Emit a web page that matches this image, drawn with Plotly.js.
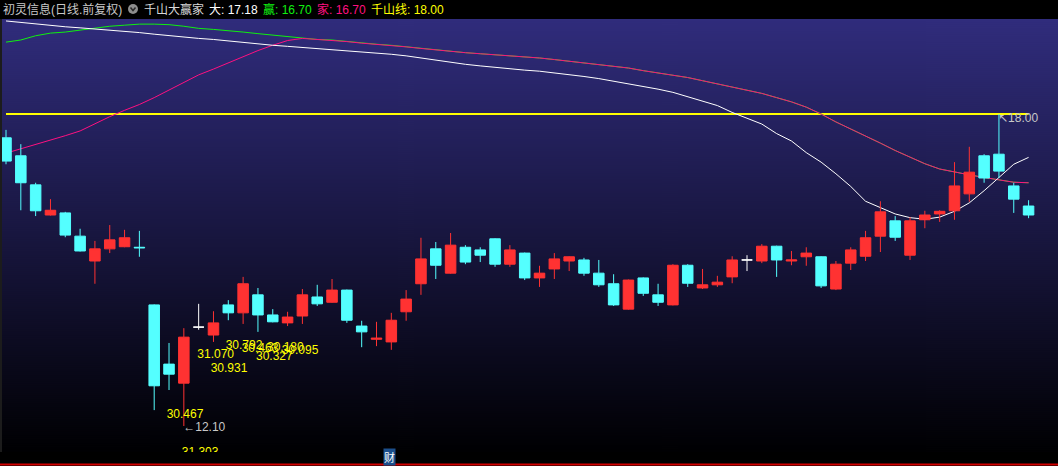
<!DOCTYPE html>
<html>
<head>
<meta charset="utf-8">
<script src="https://cdn.plot.ly/plotly-3.0.1.min.js"></script>
<style>
  html, body { margin: 0; padding: 0; background: #000; }
  #chart { width: 1058px; height: 466px; }
</style>
</head>
<body>
<div id="chart"></div>
<script>
// daily bars, 70 sessions (index 0..69)
const openP = [
  17.55, 17.21, 16.66, 16.09, 16.13, 15.69, 15.22, 15.45, 15.49, 15.48,
  14.39, 13.27, 12.91, 13.97, 13.82, 14.39, 14.24, 14.58, 14.20, 14.05,
  14.18, 14.54, 14.44, 14.67, 13.99, 13.74, 13.69, 14.26, 14.79, 15.45,
  14.99, 15.48, 15.43, 15.64, 15.16, 15.37, 14.90, 15.07, 15.22, 15.24,
  14.99, 14.79, 14.31, 14.90, 14.58, 14.39, 15.14, 14.71, 14.77, 14.92,
  15.24, 15.22, 15.50, 15.22, 15.30, 15.30, 14.69, 15.18, 15.31, 15.69,
  15.98, 15.33, 16.00, 16.11, 16.17, 16.49, 17.21, 17.24, 16.64, 16.26
];
const highP = [
  17.70, 17.43, 16.70, 16.39, 16.15, 15.83, 15.60, 15.90, 15.81, 15.79,
  14.40, 13.67, 13.95, 14.41, 14.27, 14.48, 14.92, 14.71, 14.31, 14.26,
  14.69, 14.77, 14.88, 14.68, 14.09, 14.07, 14.24, 14.67, 15.66, 15.58,
  15.75, 15.52, 15.48, 15.65, 15.52, 15.38, 15.13, 15.37, 15.31, 15.28,
  15.24, 14.97, 14.87, 14.91, 14.79, 15.16, 15.16, 15.07, 14.94, 15.31,
  15.33, 15.54, 15.51, 15.41, 15.48, 15.31, 15.22, 15.48, 15.79, 16.35,
  16.07, 16.05, 16.17, 16.18, 17.09, 17.38, 17.24, 18.00, 16.70, 16.37
];
const lowP = [
  17.05, 16.18, 16.07, 16.08, 15.67, 15.40, 14.79, 15.37, 15.48, 15.30,
  12.40, 12.78, 12.10, 13.92, 13.69, 14.10, 14.03, 13.88, 14.06, 13.99,
  14.03, 14.37, 14.43, 14.05, 13.59, 13.61, 13.54, 14.09, 14.58, 14.88,
  14.98, 15.16, 15.20, 15.11, 15.11, 14.86, 14.73, 14.88, 15.03, 14.94,
  14.73, 14.37, 14.30, 14.56, 14.37, 14.38, 14.73, 14.69, 14.73, 14.80,
  15.03, 15.18, 14.92, 15.14, 15.13, 14.71, 14.67, 15.05, 15.22, 15.39,
  15.60, 15.24, 15.84, 15.96, 16.00, 16.34, 16.70, 16.79, 16.13, 16.03
];
const closeP = [
  17.11, 16.70, 16.17, 16.18, 15.71, 15.41, 15.45, 15.62, 15.66, 15.47,
  12.86, 13.08, 13.78, 13.97, 14.05, 14.24, 14.79, 14.20, 14.07, 14.16,
  14.58, 14.41, 14.67, 14.10, 13.88, 13.76, 14.10, 14.50, 15.26, 15.14,
  15.52, 15.20, 15.33, 15.16, 15.43, 14.90, 14.99, 15.26, 15.30, 14.99,
  14.77, 14.39, 14.86, 14.61, 14.44, 15.14, 14.80, 14.77, 14.82, 15.24,
  15.24, 15.50, 15.24, 15.24, 15.37, 14.75, 15.16, 15.43, 15.66, 16.15,
  15.67, 15.98, 16.09, 16.16, 16.64, 16.90, 16.79, 16.92, 16.39, 16.09
];

// indicator lines: 大 (white), 赢 (green), 家 (pink), 千山线
const daLine = [
  19.76, 19.73, 19.70, 19.67, 19.65, 19.63, 19.61, 19.59, 19.56, 19.54,
  19.51, 19.48, 19.46, 19.43, 19.41, 19.38, 19.36, 19.33, 19.30, 19.28,
  19.26, 19.24, 19.22, 19.19, 19.17, 19.15, 19.13, 19.10, 19.06, 19.01,
  18.98, 18.94, 18.91, 18.88, 18.85, 18.83, 18.81, 18.78, 18.75, 18.71,
  18.67, 18.62, 18.58, 18.53, 18.47, 18.41, 18.33, 18.25, 18.16, 18.03,
  17.92, 17.81, 17.63, 17.49, 17.27, 17.09, 16.87, 16.63, 16.35, 16.23,
  16.11, 16.04, 16.01, 16.05, 16.16, 16.32, 16.55, 16.80, 17.05, 17.18
];
const yingLine = [
  19.36, 19.40, 19.48, 19.53, 19.55, 19.59, 19.63, 19.66, 19.68, 19.70,
  19.70, 19.69, 19.66, 19.62, 19.60, 19.58, 19.55, 19.52, 19.49, 19.46,
  19.43, 19.41, 19.40, 19.37, 19.34, 19.32, 19.30, 19.27, 19.24, 19.21,
  19.18, 19.16, 19.14, 19.12, 19.10, 19.09, 19.06, 19.03, 19.00, 18.97,
  18.94, 18.90, 18.87, 18.82, 18.78, 18.74, 18.69, 18.63, 18.57, 18.52,
  18.46, 18.39, 18.31, 18.23, 18.13, 18.00, 17.85, 17.72, 17.58, 17.45,
  17.31, 17.18, 17.06, 16.96, 16.90, 16.85, 16.80, 16.75, 16.71, 16.70
];
const jiaLine = [
  17.26, 17.34, 17.43, 17.51, 17.59, 17.68, 17.82, 17.95, 18.07, 18.18,
  18.31, 18.45, 18.60, 18.74, 18.85, 18.97, 19.08, 19.20, 19.30, 19.39,
  19.43, 19.41, 19.40, 19.37, 19.34, 19.32, 19.30, 19.27, 19.24, 19.21,
  19.18, 19.16, 19.14, 19.12, 19.10, 19.09, 19.06, 19.03, 19.00, 18.97,
  18.94, 18.90, 18.87, 18.82, 18.78, 18.74, 18.69, 18.63, 18.57, 18.52,
  18.46, 18.39, 18.31, 18.23, 18.13, 18.00, 17.85, 17.72, 17.58, 17.45,
  17.31, 17.18, 17.06, 16.96, 16.90, 16.85, 16.80, 16.75, 16.71, 16.70
];
const qianshan = 18.00;

// text marks on the price area: [text, bar index, price, colour]
const markText  = ['30.792', '30.463', '30.180', '30.327', '30.095', '31.070', '30.931', '30.467', '31.303', '\u219012.10', '\u219618.00'];
const markX     = [14.82, 15.90, 17.61, 16.87, 18.60, 12.91, 13.81, 10.84, 11.86, 11.96, 66.94];
const markY     = [13.62, 13.56, 13.57, 13.41, 13.51, 13.44, 13.17, 12.31, 11.59, 12.07, 17.90];
const markColor = ['#ffff00', '#ffff00', '#ffff00', '#ffff00', '#ffff00', '#ffff00', '#ffff00', '#ffff00', '#ffff00', '#c8c8c8', '#c8c8c8'];

const RED = '#ff3232', CYAN = '#54ffff';
const idx = openP.map((_, i) => i);

// split doji bars (open == close) into their own white trace
const pick = (arr, keep) => idx.filter(keep).map(i => arr[i]);
const isDoji = i => openP[i] === closeP[i];
const notDoji = i => !isDoji(i);

// plot area in pixels: left 2, top 19, width 1056, height 433
const L = 2, T = 19, W = 1056, H = 433;
const px = x => (x - L) / W;
const py = y => (T + H - y) / H;
const xr = [-0.27, 70.985];
const yr = [11.608, 19.797];

// gradient for the plot background
const cv = document.createElement('canvas');
cv.width = 4; cv.height = 433;
const g2 = cv.getContext('2d');
const grad = g2.createLinearGradient(0, 0, 0, 433);
grad.addColorStop(0, 'rgb(48,44,124)');
grad.addColorStop(1, 'rgb(0,0,2)');
g2.fillStyle = grad;
g2.fillRect(0, 0, 4, 433);
const bgUrl = cv.toDataURL();

const traces = [
  { type: 'scatter', mode: 'lines', x: idx, y: idx.map(() => qianshan),
    line: { color: '#ffff00', width: 2 }, xaxis: 'x', yaxis: 'y' },
  { type: 'scatter', mode: 'lines', x: idx, y: yingLine,
    line: { color: '#10f010', width: 1 }, xaxis: 'x', yaxis: 'y' },
  { type: 'scatter', mode: 'lines', x: idx, y: jiaLine,
    line: { color: '#ff1080', width: 1 }, xaxis: 'x', yaxis: 'y' },
  { type: 'scatter', mode: 'lines', x: idx, y: daLine,
    line: { color: '#ffffff', width: 1 }, xaxis: 'x', yaxis: 'y' },
  { type: 'candlestick', xaxis: 'x2', yaxis: 'y2',
    x: pick(idx, notDoji), open: pick(openP, notDoji), high: pick(highP, notDoji),
    low: pick(lowP, notDoji), close: pick(closeP, notDoji),
    increasing: { line: { color: RED, width: 1 }, fillcolor: RED },
    decreasing: { line: { color: CYAN, width: 1 }, fillcolor: CYAN } },
  { type: 'candlestick', xaxis: 'x2', yaxis: 'y2',
    x: pick(idx, isDoji), open: pick(openP, isDoji), high: pick(highP, isDoji),
    low: pick(lowP, isDoji), close: pick(closeP, isDoji),
    increasing: { line: { color: '#ffffff', width: 1 }, fillcolor: '#ffffff' },
    decreasing: { line: { color: '#ffffff', width: 1 }, fillcolor: '#ffffff' } },
  { type: 'scatter', mode: 'text', xaxis: 'x2', yaxis: 'y2',
    x: markX, y: markY, text: markText, textposition: 'middle right',
    textfont: { family: 'Liberation Sans, DejaVu Sans', size: 12, color: markColor } }
];

const hdrY = py(9.5);
const hdrFont = 'Liberation Sans, Noto Sans CJK SC';
const hdr = (x, text, color) => ({
  xref: 'paper', yref: 'paper', x: px(x), y: hdrY, xanchor: 'left', yanchor: 'middle',
  text: text, showarrow: false, borderpad: 0,
  font: { family: hdrFont, size: 12, color: color }
});

const axisBase = { visible: false, showgrid: false, zeroline: false, fixedrange: true };

const layout = {
  width: 1058, height: 466,
  margin: { l: L, r: 0, t: T, b: 466 - T - H, pad: 0 },
  paper_bgcolor: '#000000',
  plot_bgcolor: 'rgba(0,0,0,0)',
  showlegend: false,
  hovermode: false,
  boxgap: 0.29,
  boxgroupgap: 0,
  xaxis: Object.assign({ range: xr, rangeslider: { visible: false } }, axisBase),
  yaxis: Object.assign({ range: yr }, axisBase),
  xaxis2: Object.assign({ range: xr, overlaying: 'x', rangeslider: { visible: false } }, axisBase),
  yaxis2: Object.assign({ range: yr, overlaying: 'y' }, axisBase),
  images: [{
    source: bgUrl, xref: 'paper', yref: 'paper', x: 0, y: 1, sizex: 1, sizey: 1,
    xanchor: 'left', yanchor: 'top', sizing: 'stretch', layer: 'below'
  }],
  shapes: [
    { type: 'rect', xref: 'paper', yref: 'paper', x0: px(0), x1: px(2), y0: 0, y1: 1,
      fillcolor: '#1c1c1c', line: { width: 0 } },
    { type: 'line', xref: 'paper', yref: 'paper', x0: px(0), x1: 1, y0: py(464.5), y1: py(464.5),
      line: { color: '#d00000', width: 2 } },
    { type: 'circle', xref: 'paper', yref: 'paper', x0: px(128), x1: px(138), y0: py(14), y1: py(4),
      fillcolor: '#8e8e8e', line: { width: 0 } },
    { type: 'path', xref: 'paper', yref: 'paper',
      path: 'M' + px(130.5) + ',' + py(7.5) + ' L' + px(133) + ',' + py(10.5) + ' L' + px(135.5) + ',' + py(7.5),
      line: { color: '#2a2a2a', width: 1.5 } }
  ],
  annotations: [
    hdr(2, '初灵信息(日线.前复权)', '#c8c8c8'),
    hdr(143, '千山大赢家', '#d8d8d8'),
    hdr(208, '大: 17.18', '#ffffff'),
    hdr(262, '赢: 16.70', '#10f010'),
    hdr(316, '家: 16.70', '#ff1080'),
    hdr(370, '千山线: 18.00', '#ffff00'),
    { xref: 'paper', yref: 'paper', x: px(389), y: py(456.5), xanchor: 'center', yanchor: 'middle',
      text: '财', showarrow: false, bgcolor: '#1c4f8c', borderpad: 0,
      font: { family: 'Noto Sans CJK SC', size: 11, color: '#ffffff' } }
  ]
};

Plotly.newPlot('chart', traces, layout, { displayModeBar: false, staticPlot: true });
</script>
</body>
</html>
